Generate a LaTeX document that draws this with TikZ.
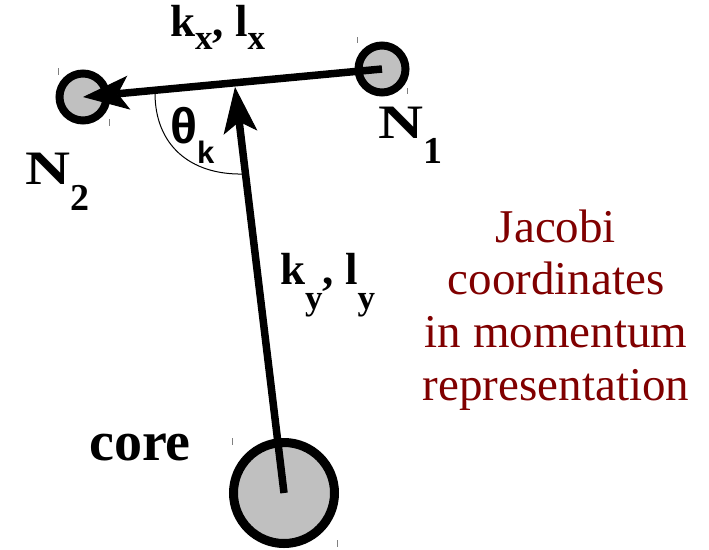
\documentclass[tikz,border=0pt]{standalone}
\usepackage{fontspec}
\setmainfont{Liberation Serif}
\newfontfamily\lsans{Liberation Sans}
\usetikzlibrary{arrows.meta}
\definecolor{maroonT}{HTML}{800000}
\definecolor{ballgray}{HTML}{C0C0C0}
\newcommand{\lowsub}[3]{\raisebox{-#1}{\fontsize{#2}{#2}\selectfont #3}}
\tikzset{
  particle/.style={circle, draw=black, fill=ballgray, inner sep=0pt},
  smallball/.style={particle, minimum size=47pt, line width=8pt},
  bigball/.style={particle, minimum size=101pt, line width=9pt},
  vec/.style={line width=7.5pt, -{Stealth[length=46pt,width=34pt,inset=11pt,line width=1pt]}},
  handle/.style={draw=gray, line width=0.8pt},
  lbl/.style={inner sep=0pt, anchor=base west, font=\bfseries},
}
\begin{document}
\begin{tikzpicture}[x=1pt,y=-1pt]
\useasboundingbox (0,0) rectangle (709,549);
% particles
\node[smallball] (n2) at (83,97) {};
\node[smallball] (n1) at (382,69) {};
\node[bigball] (core) at (284,493) {};
% selection handles
\draw[handle] (58,68) -- (58,75);
\draw[handle] (109,119) -- (109,126);
\draw[handle] (357,37) -- (357,43);
\draw[handle] (407,88) -- (407,94);
\draw[handle] (232,438) -- (232,445);
\draw[handle] (337,540) -- (337,547);
% vectors
\coordinate (tip) at (235,87);
\draw[vec] (n1.center) -- (n2.center);
\draw[vec] (core.center) -- (tip);
% angle mark
\coordinate (a1) at (155,93);
\coordinate (a2) at (243,174);
\draw[line width=1pt] (a1) .. controls (155,145) and (190,175) .. (a2);
% labels
\node[lbl, font=\bfseries\fontsize{45}{45}\selectfont] (kx) at (170,36)
  {k\lowsub{13pt}{35}{x}, l\lowsub{13pt}{35}{x}};
\node[lbl, font=\bfseries\fontsize{45}{45}\selectfont] (ky) at (280,284)
  {k\lowsub{25pt}{35}{y}, l\lowsub{25pt}{35}{y}};
\node[lbl, font=\bfseries\fontsize{48}{48}\selectfont] (n1l) at (378,138)
  {\scalebox{1.3}[1]{N}\lowsub{25pt}{38}{1}};
\node[lbl, font=\bfseries\fontsize{48}{48}\selectfont] (n2l) at (25,184)
  {\scalebox{1.3}[1]{N}\lowsub{26pt}{38}{2}};
\node[lbl, font=\bfseries\fontsize{56}{56}\selectfont] (corel) at (89,460) {core};
\node[lbl, font=\lsans\bfseries\fontsize{50}{50}\selectfont] (th) at (170,143)
  {θ\lowsub{20pt}{31}{k}};
\node[font=\fontsize{47}{52.7}\selectfont, text=maroonT, align=center, inner sep=0pt]
  (jac) at (556,310) {Jacobi\\coordinates\\in momentum\\representation};
\end{tikzpicture}
\end{document}
